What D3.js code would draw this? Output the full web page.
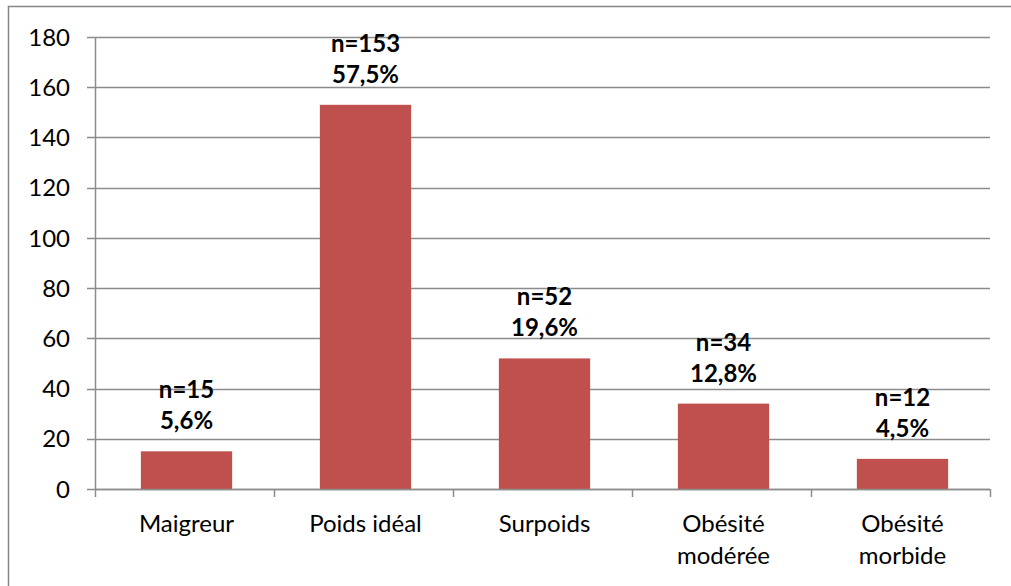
<!DOCTYPE html>
<html>
<head>
<meta charset="utf-8">
<script src="https://cdn.jsdelivr.net/npm/d3@7"></script>
<style>
  body { margin: 0; background: #fff; }
  svg { display: block; font-family: Lato, "Open Sans", sans-serif; }
</style>
</head>
<body>
<script>
const categories = [["Maigreur"], ["Poids idéal"], ["Surpoids"], ["Obésité", "modérée"], ["Obésité", "morbide"]];
const counts = [15, 153, 52, 34, 12];
const percents = ["5,6%", "57,5%", "19,6%", "12,8%", "4,5%"];
const yTicks = [0, 20, 40, 60, 80, 100, 120, 140, 160, 180];

const width = 1011;
const height = 586;
const margin = { top: 37, right: 21, bottom: 97, left: 95 };

const svg = d3.select("body")
  .append("svg")
  .attr("width", width)
  .attr("height", height);

// chart frame (runs off the right and bottom)
svg.append("rect")
  .attr("x", 8.5).attr("y", 6.5)
  .attr("width", 1020).attr("height", 600)
  .attr("fill", "none")
  .attr("stroke", "#868686")
  .attr("stroke-width", 1.5);

const x = d3.scaleBand()
  .domain(d3.range(categories.length))
  .range([margin.left + 2, width - margin.right + 2])
  .paddingInner(0.49)
  .paddingOuter(0.245);

const y = d3.scaleLinear()
  .domain([0, 180])
  .range([height - margin.bottom, margin.top]);

// gridlines
svg.append("g")
  .selectAll("line")
  .data(yTicks)
  .enter()
  .append("line")
  .attr("x1", margin.left - 8)
  .attr("x2", width - margin.right)
  .attr("y1", d => Math.round(y(d)) + 0.5)
  .attr("y2", d => Math.round(y(d)) + 0.5)
  .attr("stroke", "#8c8c8c")
  .attr("stroke-width", 1.5);

// y labels
svg.append("g")
  .selectAll("text")
  .data(yTicks)
  .enter()
  .append("text")
  .attr("x", margin.left - 25)
  .attr("y", d => y(d))
  .attr("dy", "0.36em")
  .attr("text-anchor", "end")
  .attr("font-size", 24)
  .attr("fill", "#000")
  .text(d => d);

// bars
svg.append("g")
  .selectAll("rect")
  .data(counts)
  .enter()
  .append("rect")
  .attr("x", (d, i) => x(i))
  .attr("y", d => y(d))
  .attr("width", x.bandwidth())
  .attr("height", d => y(0) - y(d))
  .attr("fill", "#C0504D");

// y axis line
svg.append("line")
  .attr("x1", margin.left + 0.5).attr("x2", margin.left + 0.5)
  .attr("y1", y(180)).attr("y2", y(0))
  .attr("stroke", "#8c8c8c").attr("stroke-width", 1.5);

// x axis line + tick marks at category boundaries
const bounds = d3.range(categories.length + 1).map(i => margin.left + i * (width - margin.left - margin.right) / categories.length);
svg.append("line")
  .attr("x1", margin.left).attr("x2", width - margin.right)
  .attr("y1", Math.round(y(0)) + 0.5).attr("y2", Math.round(y(0)) + 0.5)
  .attr("stroke", "#8c8c8c").attr("stroke-width", 1.5);
svg.append("g")
  .selectAll("line")
  .data(bounds)
  .enter()
  .append("line")
  .attr("x1", d => Math.round(d) + 0.5)
  .attr("x2", d => Math.round(d) + 0.5)
  .attr("y1", y(0))
  .attr("y2", y(0) + 8)
  .attr("stroke", "#8c8c8c").attr("stroke-width", 1.5);

// category labels
const catG = svg.append("g");
categories.forEach((lines, i) => {
  const cx = x(i) + x.bandwidth() / 2;
  const t = catG.append("text")
    .attr("x", cx)
    .attr("y", y(0) + 43)
    .attr("text-anchor", "middle")
    .attr("font-size", 24)
    .attr("fill", "#000");
  lines.forEach((line, j) => {
    t.append("tspan")
      .attr("x", cx)
      .attr("dy", j === 0 ? 0 : 32)
      .text(line);
  });
});

// data labels
const lblG = svg.append("g");
counts.forEach((c, i) => {
  const cx = x(i) + x.bandwidth() / 2;
  lblG.append("text")
    .attr("x", cx)
    .attr("y", y(c) - 53)
    .attr("text-anchor", "middle")
    .attr("font-size", 24)
    .attr("font-weight", "bold")
    .text("n=" + c);
  lblG.append("text")
    .attr("x", cx)
    .attr("y", y(c) - 22)
    .attr("text-anchor", "middle")
    .attr("font-size", 24)
    .attr("font-weight", "bold")
    .text(percents[i]);
});
</script>
</body>
</html>
